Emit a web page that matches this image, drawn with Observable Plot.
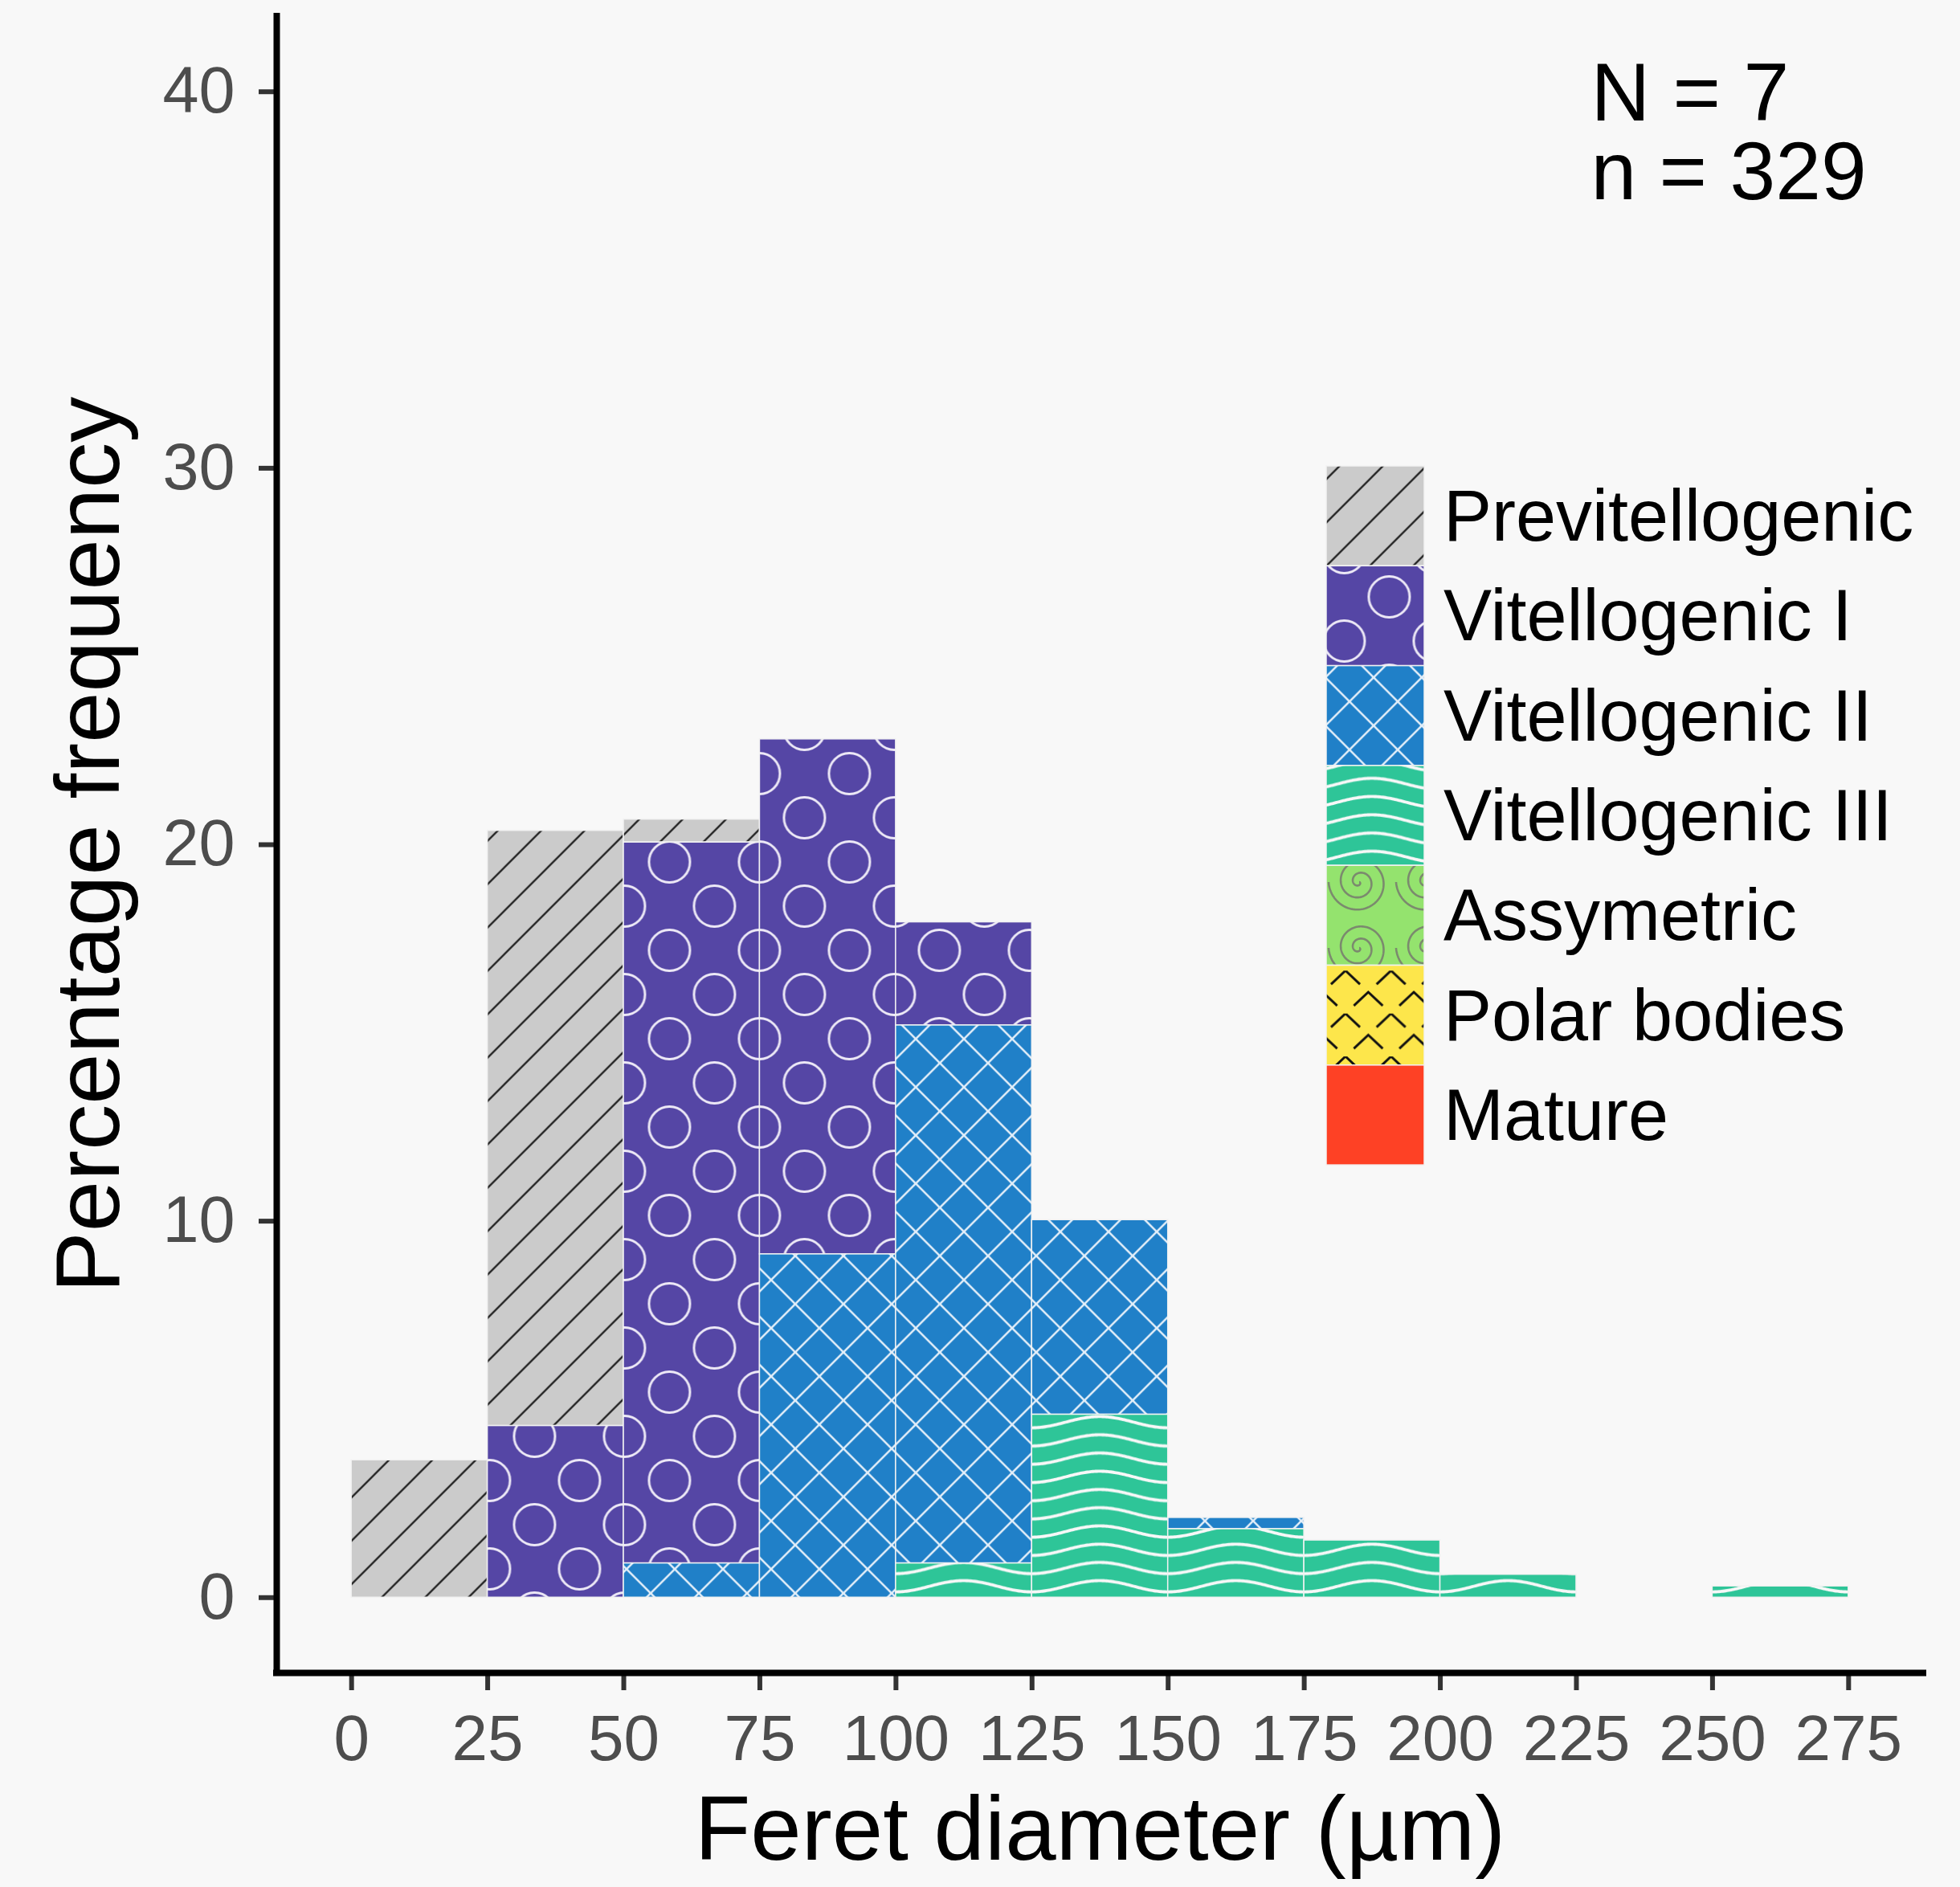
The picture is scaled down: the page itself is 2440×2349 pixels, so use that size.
<!DOCTYPE html>
<html><head><meta charset="utf-8">
<script src="https://cdn.jsdelivr.net/npm/d3@7"></script>
<script src="https://cdn.jsdelivr.net/npm/@observablehq/plot@0.6"></script>
<style>
html,body{margin:0;padding:0;background:#f8f8f8;overflow:hidden}
#chart svg{display:block}
</style>
</head><body><div id="chart"></div>
<script>
// ---------- data (percentage frequency per 25 µm bin) ----------
const binStart = [0, 25, 50, 75, 100, 125, 150, 175, 200, 225, 250];
const binWidth = 25;
const stages = ["Previtellogenic", "Vitellogenic I", "Vitellogenic II", "Vitellogenic III", "Assymetric", "Polar bodies", "Mature"];
const previtellogenic = [3.65, 15.81, 0.61, 0, 0, 0, 0, 0, 0, 0, 0];
const vitellogenicI   = [0, 4.56, 19.15, 13.68, 2.74, 0, 0, 0, 0, 0, 0];
const vitellogenicII  = [0, 0, 0.91, 9.12, 14.29, 5.17, 0.30, 0, 0, 0, 0];
const vitellogenicIII = [0, 0, 0, 0, 0.91, 4.86, 1.82, 1.52, 0.61, 0, 0.30];
const assymetric      = [0, 0, 0, 0, 0, 0, 0, 0, 0, 0, 0];
const polarBodies     = [0, 0, 0, 0, 0, 0, 0, 0, 0, 0, 0];
const mature          = [0, 0, 0, 0, 0, 0, 0, 0, 0, 0, 0];
const xTicks = [0, 25, 50, 75, 100, 125, 150, 175, 200, 225, 250, 275];
const yTicks = [0, 10, 20, 30, 40];
const xDomain = [-13.75, 288.75];
const yDomain = [-2, 42];
const xTitle = "Feret diameter (µm)";
const yTitle = "Percentage frequency";
const annotation = "N = 7\nn = 329";
const stageColors = ["#cbcbcb", "#5546a5", "#2080c8", "#2ec598", "#94e36e", "#fde64b", "#fe4125"];

const series = [previtellogenic, vitellogenicI, vitellogenicII, vitellogenicIII, assymetric, polarBodies, mature];
const rows = [];
stages.forEach((s, k) => series[k].forEach((v, i) => {
  if (v > 0) rows.push({stage: s, x1: binStart[i], x2: binStart[i] + binWidth, pct: v});
}));
const stackOrder = stages.slice().reverse(); // bottom first

const font = "'Liberation Sans', Arial, Helvetica, sans-serif";

const chart = Plot.plot({
  width: 2440, height: 2349,
  marginLeft: 344, marginRight: 46, marginTop: 20, marginBottom: 267,
  style: {background: "#f8f8f8", fontFamily: font},
  x: {domain: xDomain},
  y: {domain: yDomain},
  color: {domain: stages, range: stages.map((s, i) => `url(#pat${i})`)},
  marks: [
    Plot.rectY(rows, {x1: "x1", x2: "x2", y: "pct", fill: "stage", order: stackOrder, stroke: "#f2f2f2", strokeWidth: 1.5}),
    Plot.axisX({ticks: xTicks, tickFormat: d => d, tickSize: 22, tickPadding: 30, fontSize: 80, fill: "#4d4d4d", stroke: "#333", strokeWidth: 6, label: null}),
    Plot.axisY({ticks: yTicks, tickFormat: d => d, tickSize: 22, tickPadding: 30, fontSize: 81, fill: "#4d4d4d", stroke: "#333", strokeWidth: 6, label: null}),
    Plot.ruleX([xDomain[0]], {y1: yDomain[0], y2: yDomain[1], stroke: "#000", strokeWidth: 8, strokeLinecap: "square"}),
    Plot.ruleY([yDomain[0]], {x1: xDomain[0], x2: xDomain[1], stroke: "#000", strokeWidth: 8, strokeLinecap: "square"}),
    Plot.text([xTitle], {text: d => d, frameAnchor: "bottom", textAnchor: "middle", lineAnchor: "middle", dy: 196, fontSize: 114, fill: "#000"}),
    Plot.text([yTitle], {text: d => d, frameAnchor: "left", textAnchor: "middle", lineAnchor: "middle", rotate: -90, dx: -233, fontSize: 114, fill: "#000"}),
    Plot.text([annotation], {text: d => d, frameAnchor: "top-right", textAnchor: "start", lineAnchor: "top", dx: -414, dy: 60, fontSize: 102, lineHeight: 0.96, fill: "#000"})
  ]
});
document.getElementById("chart").appendChild(chart);

// ---------- fill patterns (anchored in SVG user space) ----------
const xs = chart.scale("x");
const X = v => xs.apply(v);
const svg = d3.select(chart);
const defs = svg.insert("defs", ":first-child");
function pattern(id, x, y, w, h, bg) {
  const p = defs.append("pattern").attr("id", id).attr("patternUnits", "userSpaceOnUse")
    .attr("x", x).attr("y", y).attr("width", w).attr("height", h);
  p.append("rect").attr("width", w).attr("height", h).attr("fill", bg);
  return p;
}
// 0 Previtellogenic: diagonal stripes
pattern("pat0", 33.7, 0, 54, 54, stageColors[0])
  .append("path").attr("d", "M-5,59L59,-5M-5,5L5,-5M49,59L59,49")
  .attr("stroke", "#262626").attr("stroke-width", 2.4).attr("fill", "none");
// 1 Vitellogenic I: circles
{
  const p = pattern("pat1", X(75), 1073, 112, 110, stageColors[1]);
  [[0,0],[112,0],[0,110],[112,110],[56,55]].forEach(([cx, cy]) =>
    p.append("circle").attr("cx", cx).attr("cy", cy).attr("r", 25.5)
      .attr("fill", "none").attr("stroke", "#ece8f6").attr("stroke-width", 3));
}
// 2 Vitellogenic II: crosshatch
pattern("pat2", 1170, 1323.3, 60, 60, stageColors[2])
  .append("path").attr("d", "M-5,-5L65,65M-5,65L65,-5M-5,55L5,65M55,-5L65,5M-5,5L5,-5M55,65L65,55")
  .attr("stroke", "#e2eef9").attr("stroke-width", 2.5).attr("fill", "none");
// 3 Vitellogenic III: waves
{
  const w = X(25) - X(0), h = 22.7;
  const pts = d3.range(0, 101).map(i => {
    const t = i / 100 * w;
    return [t, h / 2 - 7 * Math.cos(2 * Math.PI * (t - w / 2) / w)];
  });
  pattern("pat3", X(125), 1759, w, h, stageColors[3])
    .append("path").attr("d", d3.line()(pts))
    .attr("stroke", "#f8f8f8").attr("stroke-width", 3.8).attr("fill", "none");
}
// 4 Assymetric: spirals
{
  const b = 38 / (5 * Math.PI);
  const pts = d3.range(0, 301).map(i => {
    const th = i / 300 * 5 * Math.PI;
    return [42 + b * th * Math.cos(th), 41 + b * th * Math.sin(th)];
  });
  pattern("pat4", 1650, 1057, 84, 82, stageColors[4])
    .append("path").attr("d", d3.line()(pts))
    .attr("stroke", "#7b8a6e").attr("stroke-width", 2.6).attr("fill", "none");
}
// 5 Polar bodies: chevrons
{
  const w = 56.7, h = 53.4;
  const chev = (ax, ay) => `M${ax - 18},${ay + 17}L${ax},${ay}L${ax + 18},${ay + 17}`;
  pattern("pat5", 1675, 1208.3, w, h, stageColors[5])
    .append("path").attr("d", chev(0, 0) + chev(w, 0) + chev(w / 2, h / 2) + chev(0, -h) + chev(w, -h) + chev(w / 2, -h / 2))
    .attr("stroke", "#111").attr("stroke-width", 3).attr("fill", "none");
}
// 6 Mature: solid
pattern("pat6", 0, 0, 10, 10, stageColors[6]);

// ---------- legend ----------
const lg = svg.append("g").attr("font-family", font).attr("text-anchor", "start");
const keyX = 1651, keyW = 122, keyTop = 580, keyH = 124.3;
stages.forEach((s, i) => {
  lg.append("rect").attr("x", keyX).attr("y", keyTop + i * keyH).attr("width", keyW).attr("height", keyH)
    .attr("fill", `url(#pat${i})`).attr("stroke", "#f2f2f2").attr("stroke-width", 1.5);
  lg.append("text").attr("x", 1797).attr("y", keyTop + i * keyH + keyH / 2 + 31)
    .attr("text-anchor", "start").attr("font-size", 90).attr("fill", "#000").text(s);
});
</script>
</body></html>
